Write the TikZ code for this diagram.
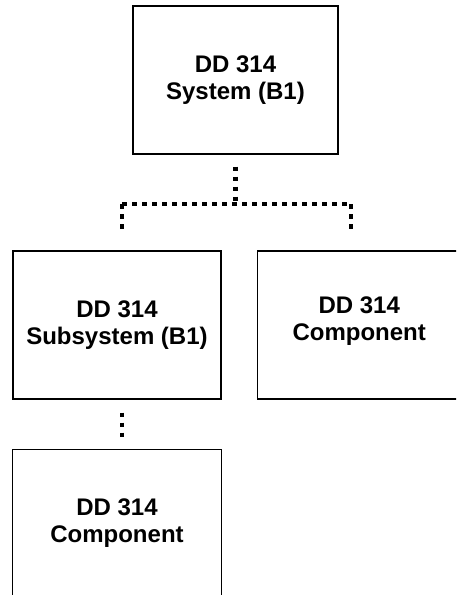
\documentclass[tikz,border=0pt]{standalone}
\usepackage{fontspec}
\setmainfont{Liberation Sans}
\usetikzlibrary{positioning}

\tikzset{
  ddbox/.style={draw, line width=1.2pt, inner sep=0pt,
    minimum width=207pt, minimum height=148pt, align=center,
    font=\bfseries\fontsize{24}{27}\selectfont},
  dotline/.style={line width=4.5pt, dash pattern=on 4.5pt off 5.5pt}
}

\begin{document}
\begin{tikzpicture}[x=1pt,y=1pt]
\clip (0,0) rectangle (456,-595);
\useasboundingbox (0,0) rectangle (456,-595);
% Boxes of the breakdown
\node[ddbox, minimum width=205pt] (sys) at (235.5,-80) {DD 314\\System (B1)};
\node[ddbox, minimum width=208pt] (sub) at (117,-325) {DD 314\\Subsystem (B1)};
\node[ddbox, minimum width=204pt, right=35pt of sub] (comp) {DD 314\\Component\\[-15pt]};
\node[ddbox, minimum width=209pt, below=49pt of sub] (subcomp) {DD 314\\Component};
% Dotted connectors
\coordinate (busL) at (122,-204);
\coordinate (busR) at (351,-204);
\draw[dotline] ([yshift=-12pt]sys.south) -- (sys.south |- busL);
\draw[dotline] (busL) -- (busR);
\draw[dotline] (busL) -- ([yshift=18pt]busL |- sub.north);
\draw[dotline] (busR) -- ([yshift=18pt]busR |- comp.north);
\draw[dotline] ([yshift=-13pt]busL |- sub.south) -- ([yshift=8pt]busL |- subcomp.north);
\end{tikzpicture}
\end{document}
